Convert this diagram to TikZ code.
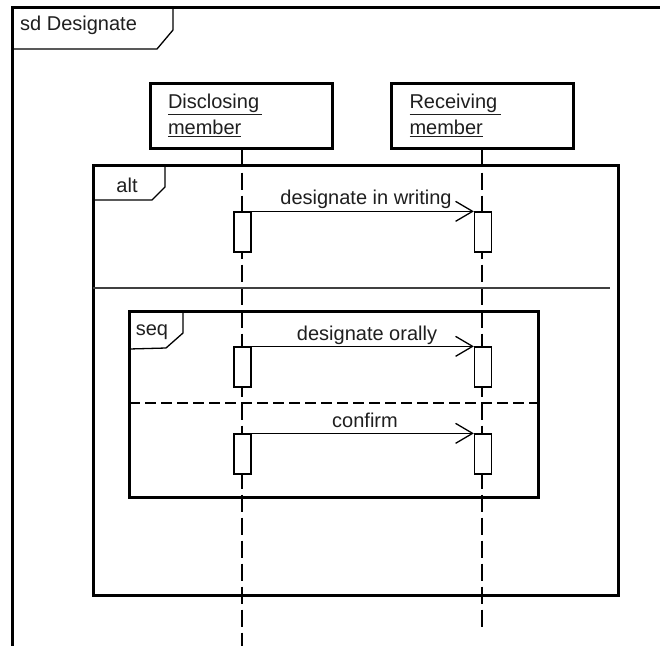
\documentclass[tikz,border=0pt]{standalone}
\usepackage{fontspec}
\setmainfont{Liberation Sans}
\usetikzlibrary{arrows.meta}
\begin{document}
\begin{tikzpicture}[x=1pt,y=-1pt,
  frame/.style={line width=3pt},
  tabline/.style={line width=1.3pt},
  lifeline/.style={line width=1.3pt, dash pattern=on 17pt off 6pt},
  head/.style={draw, line width=3pt, minimum width=182pt, minimum height=65pt,
    text width=146pt, inner xsep=18pt, inner ysep=0pt, align=left,
    font=\fontsize{20}{26}\selectfont},
  act/.style={draw, fill=white, line width=1.3pt, minimum width=17pt, minimum height=40pt, inner sep=0pt},
  msg/.style={line width=1.3pt, -{Straight Barb[length=17pt,width=20pt,line width=1.3pt]}},
  lbl/.style={font=\fontsize{20}{24}\selectfont, inner sep=0pt, anchor=base, text=black!88}
]
\useasboundingbox (0,0) rectangle (660,646);
\fill[white] (0,0) rectangle (660,646);

% outer sd frame
\draw[frame] (660,7) -- (12,7) -- (12,646);
\draw[tabline] (12,49) -- (157,49) -- (173,30) -- (173,7);
\node[lbl, anchor=base west] (sdlbl) at (20,30) {sd Designate};

% lifeline heads
\node[head, text=black!88] (disc) at (241,115.5) {\underline{Disclosing\,}\\\underline{member}};
\node[head, text=black!88] (recv) at (482.5,115.5) {\underline{Receiving\,}\\\underline{member}};
\coordinate (dend) at (242,646);
\coordinate (rend) at (482,630);
\draw[lifeline] (disc.south -| dend) -- (dend);
\draw[lifeline] (recv.south -| rend) -- (rend);

% alt frame
\draw[frame] (93,165) rectangle (618,595);
\draw[tabline] (93,200) -- (152,200) -- (165,187) -- (165,165);
\node[lbl] (altlbl) at (127,192) {alt};
\draw[line width=1.3pt, black!75] (93,288) -- (610,288);

% seq frame
\draw[frame] (129,311) rectangle (538,497);
\draw[tabline] (129,349) -- (166,348) -- (183,333) -- (183,311);
\node[lbl] (seqlbl) at (152,335) {seq};
\draw[line width=1.3pt, dash pattern=on 11pt off 5pt] (129,403) -- (538,403);

% activations
\node[act] (da1) at (242.5,232) {};
\node[act] (ra1) at (483,232) {};
\node[act] (da2) at (242.5,367) {};
\node[act] (ra2) at (483,367) {};
\node[act] (da3) at (242.5,454) {};
\node[act] (ra3) at (483,454) {};

% messages
\draw[msg] (da1.north east) -- (ra1.north west);
\node[lbl] (m1) at (366,204) {designate in writing};
\draw[msg] (da2.north east) -- (ra2.north west);
\node[lbl] (m2) at (367,340) {designate orally};
\draw[msg] (da3.north east) -- (ra3.north west);
\node[lbl] (m3) at (365,427) {confirm};
\end{tikzpicture}
\end{document}
